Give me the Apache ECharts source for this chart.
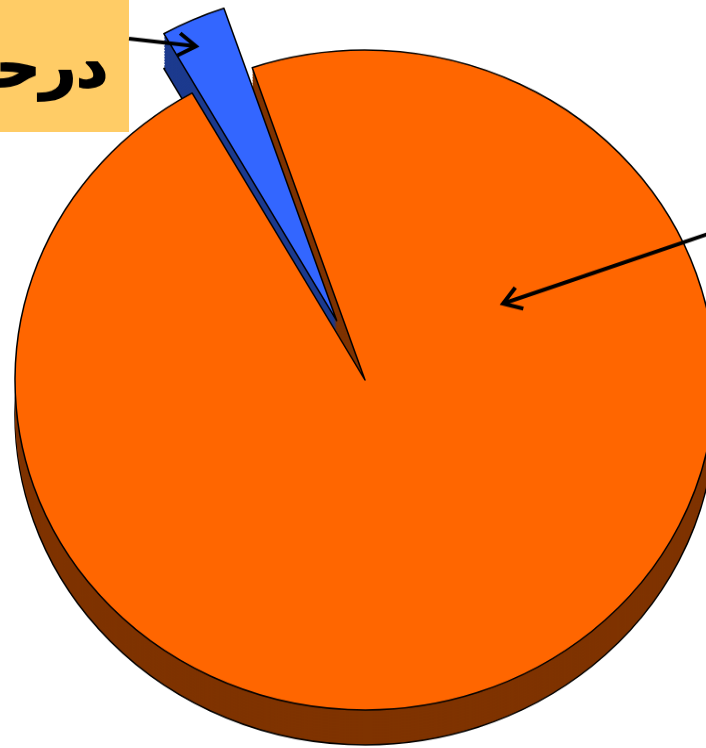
<!DOCTYPE html>
<html><head><meta charset="utf-8">
<script src="https://cdn.jsdelivr.net/npm/echarts@6/dist/echarts.min.js"></script>
<style>
html,body{margin:0;padding:0;width:706px;height:748px;overflow:hidden;background:#fff}
#c{width:706px;height:793px;transform:scaleY(0.9429);transform-origin:0 0}
</style>
</head><body><div id="c"></div>
<script>
// data
const categories = ['سایر', 'درحد'];
const values = [97, 3];
const topColors = ['#FF6600', '#3366FF'];
const sideColors = ['#7F3300', '#1C3A8E'];
const explodedIndex = 1;
const blueLabel = 'درحد';

const chart = echarts.init(document.getElementById('c'), null, {renderer: 'canvas'});

function pieData(colors, bw) {
  return categories.map((name, i) => ({
    name: name,
    value: values[i],
    selected: i === explodedIndex,
    itemStyle: {color: colors[i]},
    select: {itemStyle: {color: colors[i], borderColor: '#000', borderWidth: bw}}
  }));
}

function pieSeries(cy, colors, z, bw) {
  return {
    type: 'pie',
    center: [365, cy],
    radius: 350,
    startAngle: 108.8,
    clockwise: true,
    selectedMode: 'single',
    selectedOffset: 69,
    silent: true,
    avoidLabelOverlap: false,
    label: {show: false},
    labelLine: {show: false},
    emphasis: {disabled: true, scale: false},
    itemStyle: {borderColor: '#000', borderWidth: bw},
    z: z,
    data: pieData(colors, bw)
  };
}

function arrow(x1, y1, x2, y2) {
  const a = Math.atan2(y2 - y1, x2 - x1);
  const L = 21, w = 0.6;
  return [
    {type: 'line', z: 100, shape: {x1, y1, x2, y2}, style: {stroke: '#000', lineWidth: 4}},
    {type: 'polyline', z: 100, shape: {points: [
      [x2 - L * Math.cos(a - w), y2 - L * Math.sin(a - w)], [x2, y2],
      [x2 - L * Math.cos(a + w), y2 - L * Math.sin(a + w)]]},
      style: {stroke: '#000', lineWidth: 4, fill: null, lineJoin: 'miter'}}
  ];
}

const topY = 403, depth = 37;
const series = [pieSeries(topY + depth, sideColors, 1, 1.5)];
for (let d = depth - 3, k = 2; d > 0; d -= 3, k++) {
  series.push(pieSeries(topY + d, sideColors, k, 0));
}
series.push(pieSeries(topY, topColors, 50, 1.5));

chart.setOption({
  animation: false,
  backgroundColor: '#fff',
  series: series,
  graphic: [
    {type: 'rect', z: 99, shape: {x: -10, y: -10, width: 139, height: 150}, style: {fill: '#FFCC66'}},
    {type: 'text', z: 100, style: {text: blueLabel, x: 108, y: 76, align: 'right', verticalAlign: 'middle',
      font: 'bold 62px "DejaVu Sans"', fill: '#000', stroke: '#000', lineWidth: 2}},
    ...arrow(129, 41, 196, 49),
    ...arrow(725, 242, 503, 322)
  ]
});
</script>
</body></html>
